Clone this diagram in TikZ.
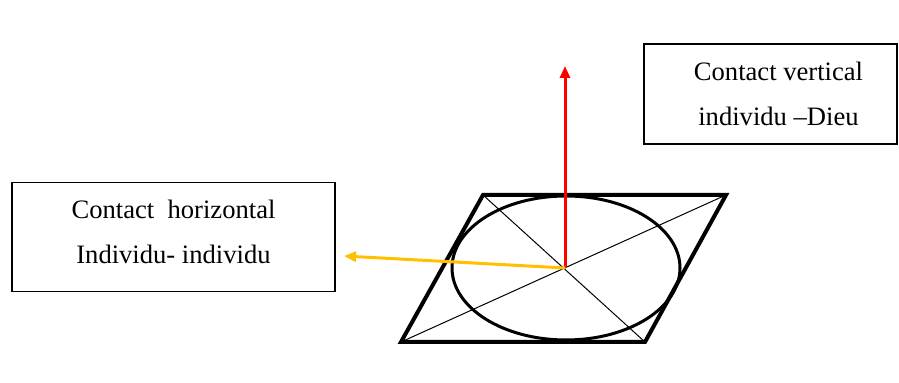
\documentclass[tikz,border=0pt]{standalone}
\usepackage{fontspec}
\setmainfont{Liberation Serif}
\usetikzlibrary{arrows.meta, positioning}
\definecolor{ctyellow}{RGB}{255,192,0}

\begin{document}
\begin{tikzpicture}[x=0.5pt, y=-0.5pt,
  txtbox/.style={draw, rectangle, line width=0.6pt, align=center, inner sep=0pt, font=\fontsize{13.3}{22.5}\selectfont},
  frame/.style={line width=2pt, line join=miter},
  ring/.style={line width=1.5pt},
  diag/.style={line width=0.5pt},
  uparrow/.style={-{Triangle[length=6pt, width=5pt]}, line width=1.5pt, draw=red},
  sidearrow/.style={-{Triangle[length=6pt, width=5pt]}, line width=1.5pt, draw=ctyellow}
]
  \useasboundingbox (0,0) rectangle (899,383);

  % plan (parallelogram)
  \coordinate (tl) at (483,195);
  \coordinate (tr) at (726,195);
  \coordinate (br) at (645,342);
  \coordinate (bl) at (401,342);
  \coordinate (o)  at (565,268);
  \coordinate (up)   at (565,66);
  \coordinate (side) at (344,256);

  \draw[frame] (tl) -- (tr) -- (br) -- (bl) -- cycle;
  \draw[diag] (tl) -- (br);
  \draw[diag] (tr) -- (bl);
  \draw[ring] (566,268) ellipse [x radius=57pt, y radius=36pt];

  % text boxes
  \node[txtbox, minimum width=161.5pt, minimum height=54.5pt] (horiz) at (173.5,237) {Contact\ \ horizontal\\Individu- individu\\[-17.5pt]\mbox{}};
  \node[txtbox, minimum width=126.5pt, minimum height=50pt] (vert) at (770.5,94) {\hspace*{8pt}Contact vertical\\\hspace*{8pt}individu \textendash Dieu};

  \draw[uparrow] (o) -- (up);
  \draw[sidearrow] (o) -- (side);
\end{tikzpicture}
\end{document}
